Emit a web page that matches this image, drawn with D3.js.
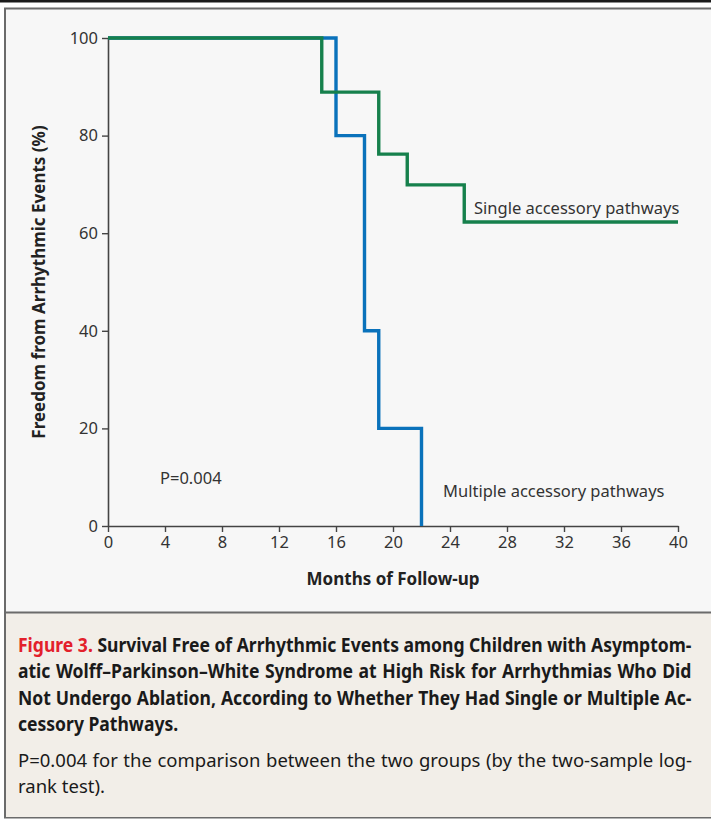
<!DOCTYPE html>
<html>
<head>
<meta charset="utf-8">
<script src="https://cdn.jsdelivr.net/npm/d3@7"></script>
<style>
  body { margin: 0; background: #fff; }
  svg { display: block; }
</style>
</head>
<body>
<script>
// step data
var singleMonths = [0, 15, 19, 21, 25, 40];
var singleSurv = [100, 88.9, 76.2, 69.9, 62.3, 62.3];
var multiMonths = [0, 16, 18, 19, 22];
var multiSurv = [100, 80, 40, 20, 0];

var xTicks = [0, 4, 8, 12, 16, 20, 24, 28, 32, 36, 40];
var yTicks = [0, 20, 40, 60, 80, 100];

var captionBold = [
  "Figure 3. Survival Free of Arrhythmic Events among Children with Asymptom-",
  "atic Wolff\u2013Parkinson\u2013White Syndrome at High Risk for Arrhythmias Who Did",
  "Not Undergo Ablation, According to Whether They Had Single or Multiple Ac-",
  "cessory Pathways."
];
var captionPlain = [
  "P=0.004 for the comparison between the two groups (by the two-sample log-",
  "rank test)."
];

var W = 711, H = 820;
var plotFont = "'Noto Sans', 'Open Sans', sans-serif";

var svg = d3.select("body").append("svg")
    .attr("width", W)
    .attr("height", H);

// frame
svg.append("rect").attr("x", 0).attr("y", 0).attr("width", W).attr("height", H).attr("fill", "#fff");
svg.append("line").attr("x1", 0).attr("x2", W).attr("y1", 1.2).attr("y2", 1.2)
    .attr("stroke", "#1a1a1a").attr("stroke-width", 2.5);
svg.append("rect").attr("x", 5).attr("y", 8.5).attr("width", W + 10).attr("height", 809)
    .attr("fill", "#f7f7f7").attr("stroke", "#6b6b6b").attr("stroke-width", 2);
svg.append("rect").attr("x", 6).attr("y", 613).attr("width", W).attr("height", 204)
    .attr("fill", "#f2eee8");
svg.append("line").attr("x1", 5).attr("x2", W).attr("y1", 612.5).attr("y2", 612.5)
    .attr("stroke", "#6b6b6b").attr("stroke-width", 2);

// scales
var x = d3.scaleLinear().domain([0, 40]).range([108, 678]);
var y = d3.scaleLinear().domain([0, 100]).range([526, 38]);

var g = svg.append("g");

// axes
var xAxis = g.append("g")
    .attr("transform", "translate(0," + y(0) + ")")
    .call(d3.axisBottom(x).tickValues(xTicks).tickSize(6).tickSizeOuter(0).tickPadding(4));
var yAxis = g.append("g")
    .attr("transform", "translate(" + x(0) + ",0)")
    .call(d3.axisLeft(y).tickValues(yTicks).tickSize(6).tickSizeOuter(0).tickPadding(4));

[xAxis, yAxis].forEach(function (a) {
    a.attr("font-size", 16.5).attr("font-family", plotFont);
    a.select(".domain").attr("stroke", "#444").attr("stroke-width", 1.6);
    a.selectAll(".tick line").attr("stroke", "#444").attr("stroke-width", 1.4);
    a.selectAll(".tick text")
        .attr("fill", "#333")
        .attr("font-size", 16.5);
});

// curves
var step = d3.line()
    .x(function (d) { return x(d[0]); })
    .y(function (d) { return y(d[1]); })
    .curve(d3.curveStepAfter);

var multiPts = multiMonths.map(function (m, i) { return [m, multiSurv[i]]; });
var singlePts = singleMonths.map(function (m, i) { return [m, singleSurv[i]]; });

g.append("path")
    .datum(multiPts)
    .attr("d", step)
    .attr("fill", "none")
    .attr("stroke", "#0a72bb")
    .attr("stroke-width", 3.4);

g.append("path")
    .datum(singlePts)
    .attr("d", step)
    .attr("fill", "none")
    .attr("stroke", "#16804c")
    .attr("stroke-width", 3.4);

// labels inside the plot
function plotLabel(px, py, txt) {
    g.append("text")
        .attr("x", px).attr("y", py)
        .attr("font-family", plotFont).attr("font-size", 16.5).attr("fill", "#333")
        .text(txt);
}
plotLabel(474, 214, "Single accessory pathways");
plotLabel(443, 497, "Multiple accessory pathways");
plotLabel(160, 484, "P=0.004");

// axis titles
g.append("text")
    .attr("x", 393).attr("y", 585)
    .attr("text-anchor", "middle")
    .attr("font-family", plotFont).attr("font-size", 17).attr("font-weight", "bold")
    .attr("fill", "#222")
    .text("Months of Follow-up");
g.append("text")
    .attr("transform", "translate(45," + 282 + ") rotate(-90)")
    .attr("text-anchor", "middle")
    .attr("font-family", plotFont).attr("font-size", 17).attr("font-weight", "bold")
    .attr("fill", "#222")
    .text("Freedom from Arrhythmic Events (%)");

// caption: bold block is condensed by one common factor, then lines justified
var capW = 674;
function makeLine(txt, py, bold, size) {
    var t = svg.append("text")
        .attr("font-family", plotFont)
        .attr("font-size", size)
        .attr("font-weight", bold ? "bold" : "normal")
        .attr("fill", "#1a1a1a");
    if (txt.indexOf("Figure 3. ") === 0) {
        t.append("tspan").attr("fill", "#e3202b").text("Figure 3.");
        t.append("tspan").text(txt.slice(9));
    } else {
        t.text(txt);
    }
    return { t: t, txt: txt, py: py, w: t.node().getComputedTextLength() };
}
function layoutBlock(lines, justifyCount) {
    var maxW = d3.max(lines.slice(0, justifyCount), function (l) { return l.w; });
    var sx = Math.min(1, capW / maxW);
    lines.forEach(function (l, i) {
        l.t.attr("transform", "translate(18," + l.py + ") scale(" + sx + ",1)");
        if (i < justifyCount) {
            var spaces = l.txt.split(" ").length - 1;
            var gap = capW / sx - l.w;
            if (spaces > 0 && gap > 0) l.t.attr("word-spacing", gap / spaces);
        }
    });
}
var boldY = [652, 678, 705, 731];
layoutBlock(captionBold.map(function (s, i) { return makeLine(s, boldY[i], true, 20); }), 3);
var plainY = [767, 793];
layoutBlock(captionPlain.map(function (s, i) { return makeLine(s, plainY[i], false, 18.5); }), 1);
</script>
</body>
</html>
